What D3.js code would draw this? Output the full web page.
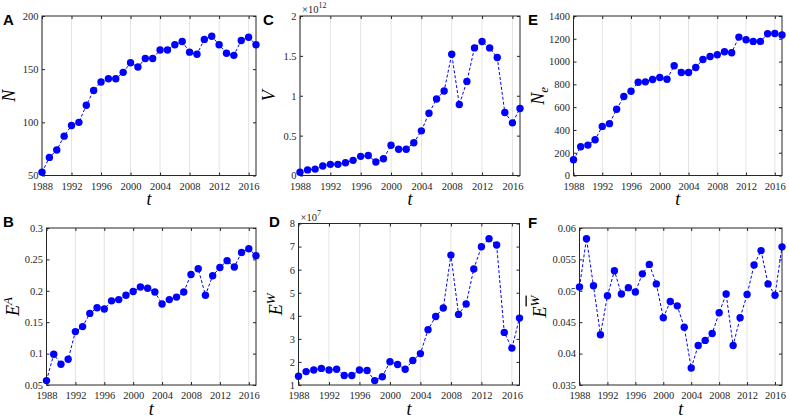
<!DOCTYPE html>
<html>
<head>
<meta charset="utf-8">
<script src="https://cdn.jsdelivr.net/npm/d3@7"></script>
<style>
  body { margin: 0; background: #fff; }
  svg { display: block; }
  .tick line { stroke: #262626; }
  .lab { font-family: "Liberation Serif", serif; font-style: italic; fill: #000; }
  .letter { font-family: "Liberation Sans", Arial, sans-serif; font-weight: bold; font-size: 15px; }
</style>
</head>
<body>
<svg id="svg"></svg>
<script>
var years = [1988, 1989, 1990, 1991, 1992, 1993, 1994, 1995, 1996, 1997,
  1998, 1999, 2000, 2001, 2002, 2003, 2004, 2005, 2006, 2007,
  2008, 2009, 2010, 2011, 2012, 2013, 2014, 2015, 2016, 2017];
var xTicks = [1988, 1992, 1996, 2000, 2004, 2008, 2012, 2016];

// A: N
var valuesN = [53, 67, 74, 87, 97, 100, 116, 130, 138, 141,
  141, 147, 156, 152, 160, 160, 168, 168, 173, 176,
  166, 164, 178, 181, 173, 165, 163, 177, 180, 173];
// B: E^A
var valuesEA = [0.057, 0.099, 0.083, 0.091, 0.135, 0.143, 0.164, 0.173, 0.171, 0.184,
  0.186, 0.193, 0.199, 0.206, 0.204, 0.198, 0.179, 0.186, 0.190, 0.198,
  0.226, 0.235, 0.193, 0.224, 0.237, 0.248, 0.238, 0.261, 0.267, 0.256];
// C: V (x 1e12)
var valuesV = [0.04, 0.07, 0.08, 0.12, 0.14, 0.14, 0.16, 0.19, 0.24, 0.25,
  0.17, 0.21, 0.38, 0.33, 0.33, 0.41, 0.56, 0.78, 0.96, 1.06,
  1.52, 0.89, 1.18, 1.60, 1.68, 1.60, 1.48, 0.79, 0.66, 0.84];
// D: E^W (x 1e7)
var valuesEW = [1.38, 1.58, 1.65, 1.72, 1.65, 1.68, 1.41, 1.41, 1.65, 1.63,
  1.19, 1.36, 2.01, 1.89, 1.68, 2.06, 2.36, 3.40, 3.97, 4.34,
  6.63, 4.06, 4.51, 6.03, 6.99, 7.34, 7.07, 3.28, 2.60, 3.90];
// E: N_e
var valuesNe = [138, 252, 267, 314, 431, 455, 581, 693, 740, 819,
  822, 842, 860, 845, 963, 904, 904, 948, 1018, 1045,
  1060, 1086, 1077, 1215, 1192, 1177, 1177, 1244, 1247, 1233];
// F: E^{W bar}
var valuesEWbar = [0.0506, 0.0583, 0.0508, 0.0430, 0.0492, 0.0532, 0.0495, 0.0505, 0.0498, 0.0527,
  0.0542, 0.0511, 0.0457, 0.0483, 0.0476, 0.0442, 0.0377, 0.0413, 0.0421, 0.0432,
  0.0465, 0.0495, 0.0413, 0.0457, 0.0494, 0.0541, 0.0564, 0.0511, 0.0493, 0.0570];

var yTicksN = [50, 100, 150, 200];
var yTicksEA = [0.05, 0.1, 0.15, 0.2, 0.25, 0.3];
var yTicksV = [0, 0.5, 1, 1.5, 2];
var yTicksEW = [1, 2, 3, 4, 5, 6, 7, 8];
var yTicksNe = [0, 200, 400, 600, 800, 1000, 1200, 1400];
var yTicksEWbar = [0.035, 0.04, 0.045, 0.05, 0.055, 0.06];

var panels = [
  { letter: 'A', values: valuesN, ticks: yTicksN, label: { base: 'N' },
    box: [42, 16, 256, 175.5], labX: 27, letterPos: [3, 25] },
  { letter: 'B', values: valuesEA, ticks: yTicksEA, label: { base: 'E', sup: 'A' },
    box: [46.5, 228, 256, 385], labX: 28, letterPos: [3, 227] },
  { letter: 'C', values: valuesV, ticks: yTicksV, label: { base: 'V' }, expo: '12',
    box: [300, 16, 520, 175.5], labX: 25, letterPos: [263, 25] },
  { letter: 'D', values: valuesEW, ticks: yTicksEW, label: { base: 'E', sup: 'W' }, expo: '7',
    box: [298.5, 223.5, 519.5, 385], labX: 17, letterPos: [269, 227] },
  { letter: 'E', values: valuesNe, ticks: yTicksNe, label: { base: 'N', sub: 'e' },
    box: [573.5, 16, 782, 175.5], labX: 30, letterPos: [528, 25] },
  { letter: 'F', values: valuesEWbar, ticks: yTicksEWbar, label: { base: 'E', sup: 'W', bar: true },
    box: [579.5, 228, 782, 385], labX: 34, letterPos: [528, 228] }
];

var svg = d3.select('#svg').attr('width', 789).attr('height', 417);
var serif = '"Liberation Serif", "Times New Roman", serif';

panels.forEach(function (p) {
  var l = p.box[0], t = p.box[1], r = p.box[2], b = p.box[3];
  var x = d3.scaleLinear().domain([1988, 2017]).range([l, r]);
  var y = d3.scaleLinear().domain(d3.extent(p.ticks)).range([b, t]);
  var g = svg.append('g');

  // vertical grid
  g.selectAll('line.grid').data(xTicks).enter().append('line')
    .attr('x1', function (d) { return x(d); }).attr('x2', function (d) { return x(d); })
    .attr('y1', t).attr('y2', b)
    .attr('stroke', '#e3e3e3').attr('stroke-width', 1);

  var ax = g.append('g').attr('transform', 'translate(0,' + b + ')')
    .call(d3.axisBottom(x).tickValues(xTicks).tickFormat(d3.format('d')).tickSize(-3).tickPadding(7));
  var axT = g.append('g').attr('transform', 'translate(0,' + t + ')')
    .call(d3.axisTop(x).tickValues(xTicks).tickFormat('').tickSize(-3));
  var ay = g.append('g').attr('transform', 'translate(' + l + ',0)')
    .call(d3.axisLeft(y).tickValues(p.ticks).tickFormat(function (d) { return String(d); }).tickSize(-3).tickPadding(3.5));
  var ayR = g.append('g').attr('transform', 'translate(' + r + ',0)')
    .call(d3.axisRight(y).tickValues(p.ticks).tickFormat('').tickSize(-3));
  [ax, axT, ay, ayR].forEach(function (a) {
    a.select('.domain').remove();
    a.attr('font-family', serif).attr('font-size', 10.5);
    a.selectAll('text').attr('fill', '#262626');
  });

  g.append('rect').attr('x', l).attr('y', t).attr('width', r - l).attr('height', b - t)
    .attr('fill', 'none').attr('stroke', '#262626').attr('stroke-width', 1);

  var line = d3.line().x(function (d, i) { return x(years[i]); }).y(function (d) { return y(d); });
  g.append('path').datum(p.values).attr('d', line)
    .attr('fill', 'none').attr('stroke', '#0000ff').attr('stroke-width', 1)
    .attr('stroke-dasharray', '3 2');

  g.selectAll('circle').data(p.values).enter().append('circle')
    .attr('cx', function (d, i) { return x(years[i]); })
    .attr('cy', function (d) { return y(d); })
    .attr('r', 3.7).attr('fill', '#0000ff');

  // x label
  g.append('text').attr('class', 'lab').attr('x', (l + r) / 2).attr('y', b + 29.5)
    .attr('text-anchor', 'middle').attr('font-size', 18).text('t');

  // y label
  var yl = g.append('text').attr('class', 'lab').attr('font-size', 18)
    .attr('text-anchor', 'middle')
    .attr('transform', 'translate(' + (l - p.labX) + ',' + ((t + b) / 2) + ') rotate(-90)');
  yl.append('tspan').text(p.label.base);
  if (p.label.sup) {
    var s = yl.append('tspan').attr('font-size', 13).attr('dy', -7).text(p.label.sup);
    if (p.label.bar) s.style('text-decoration', 'overline');
  }
  if (p.label.sub) {
    yl.append('tspan').attr('font-size', 13).attr('dy', 4).text(p.label.sub);
  }

  // exponent
  if (p.expo) {
    var ex = g.append('text').attr('x', l + 2).attr('y', t - 3)
      .attr('font-family', serif).attr('font-size', 10.5).attr('fill', '#262626');
    ex.append('tspan').text('\u00d710');
    ex.append('tspan').attr('font-size', 8).attr('dy', -5).text(p.expo);
  }

  g.append('text').attr('class', 'letter').attr('x', p.letterPos[0]).attr('y', p.letterPos[1]).text(p.letter);
});
</script>
</body>
</html>
